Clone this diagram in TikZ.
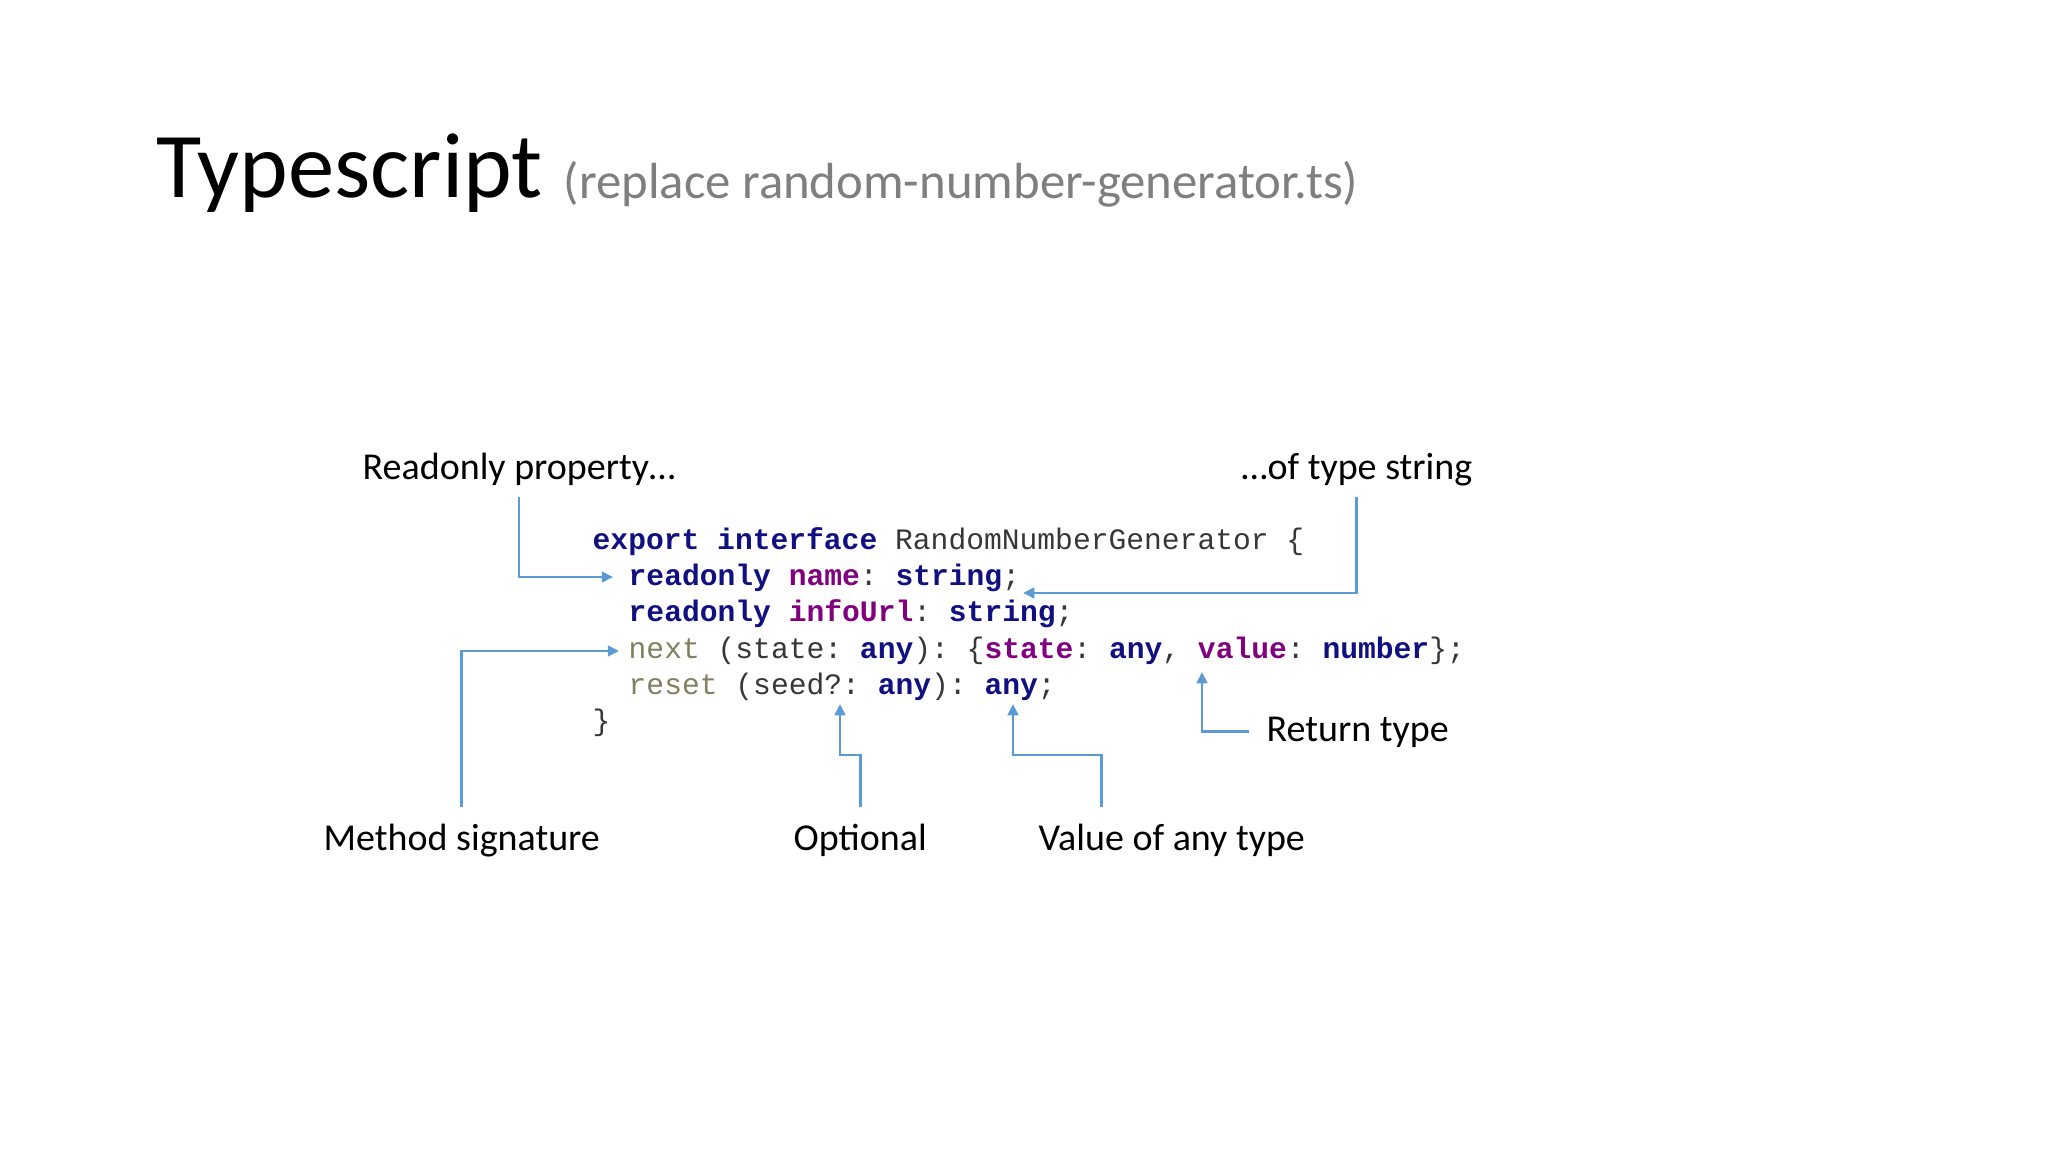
\documentclass[tikz,border=0pt]{standalone}
\usepackage{fontspec}
\setmainfont{Carlito}
\newfontfamily\codefont{Liberation Mono}
\usetikzlibrary{arrows.meta,calc}
\definecolor{kwblue}{RGB}{16,16,128}
\definecolor{pnpurple}{RGB}{128,0,128}
\definecolor{mtolive}{RGB}{128,128,96}
\definecolor{codegray}{RGB}{55,55,55}
\definecolor{subgray}{RGB}{127,127,127}
\definecolor{arrowblue}{RGB}{91,155,213}
\newcommand\cdkw[1]{\textbf{\color{kwblue}#1}}
\newcommand\cdpn[1]{\textbf{\color{pnpurple}#1}}
\newcommand\cdmt[1]{{\color{mtolive}#1}}
\begin{document}
\begin{tikzpicture}[x=0.01cm,y=-0.01cm,
  lbl/.style={inner sep=0pt, font=\fontsize{10.81pt}{13pt}\selectfont, text=black},
  codeline/.style={inner sep=0pt, anchor=base west, font=\codefont\fontsize{8.43pt}{10pt}\selectfont\frenchspacing, text=codegray},
  conn/.style={draw=arrowblue, line width=0.8pt, -{Triangle[length=3.2pt,width=3pt]}}]
\fill[white] (0,0) rectangle (2048,1152);
\useasboundingbox (0,0) rectangle (2048,1152);

% title
\node[anchor=base west, inner sep=0pt, font=\fontsize{26.35pt}{30pt}\selectfont] (title) at (156,198) {Typescript};
\node[anchor=base west, inner sep=0pt, text=subgray, font=\fontsize{14.44pt}{17pt}\selectfont] (sub) at (563,199) {(replace random-number-generator.ts)};

% code
\node[codeline] (l1) at (592,550) {\cdkw{export} \cdkw{interface} RandomNumberGenerator \{};
\node[codeline] (l2) at (628,586) {\cdkw{readonly} \cdpn{name}: \cdkw{string};};
\node[codeline] (l3) at (628,622) {\cdkw{readonly} \cdpn{infoUrl}: \cdkw{string};};
\node[codeline] (l4) at (628,658) {\cdmt{next} (state: \cdkw{any}): \{\cdpn{state}: \cdkw{any}, \cdpn{value}: \cdkw{number}\};};
\node[codeline] (l5) at (628,694) {\cdmt{reset} (seed?: \cdkw{any}): \cdkw{any};};
\node[codeline] (l6) at (592,730) {\}};

% labels
\node[lbl, anchor=base west] (ro) at (362,480) {Readonly property…};
\node[lbl, anchor=base east] (ts) at (1473,480) {…of type string};
\node[lbl, anchor=base west] (rt) at (1266,741) {Return type};
\node[lbl, anchor=base west] (ms) at (323,850) {Method signature};
\node[lbl, anchor=base west] (opt) at (793,850) {Optional};
\node[lbl, anchor=base west] (val) at (1038,850) {Value of any type};

% connector targets
\coordinate (nameTip) at (613,577);
\coordinate (strTip) at (1023,593);
\coordinate (nextTip) at (619,651);
\coordinate (optBend) at (840,755);
\coordinate (optTip) at (840,704);
\coordinate (anyBend) at (1013,755);
\coordinate (anyTip) at (1013,704);
\coordinate (retTip) at (1202,672);

% connectors
\draw[conn, shorten <=0.1cm] (ro.south) |- (nameTip);
\draw[conn, shorten <=0.1cm] (ts.south) |- (strTip);
\draw[conn, shorten <=0.16cm] (ms.north) |- (nextTip);
\draw[conn, shorten <=0.16cm] (opt.north) |- (optBend) -- (optTip);
\draw[conn, shorten <=0.16cm] ($(val.north west)!0.237!(val.north east)$) |- (anyBend) -- (anyTip);
\draw[conn, shorten <=0.17cm] (rt.west) -| (retTip);
\end{tikzpicture}
\end{document}
